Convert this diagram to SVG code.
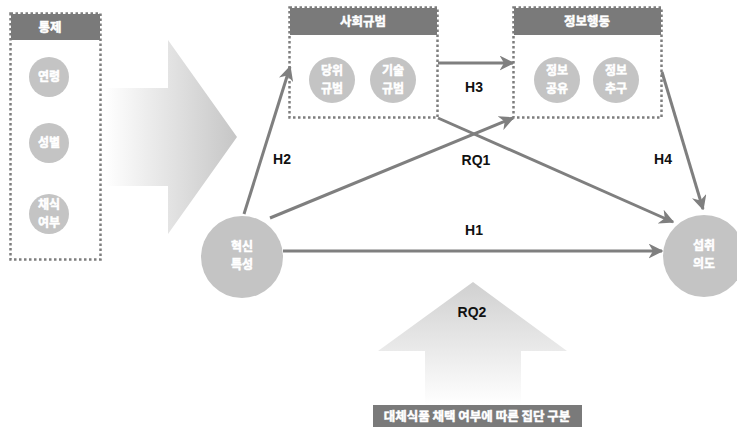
<svg xmlns="http://www.w3.org/2000/svg" width="737" height="431" viewBox="0 0 737 431">
<defs>
<style>
.box{fill:#fff;stroke:#7d7d7d;stroke-width:2.5;stroke-dasharray:2.5 2.5}
.hdr{fill:#7a7a7a}
.ht{fill:#fff;stroke:#fff;stroke-width:0.5;font-family:"Noto Sans CJK KR","Noto Sans",sans-serif;font-weight:700;font-size:12.5px;text-anchor:middle}
.c{fill:#c4c4c4}
.ct{fill:#fff;stroke:#fff;stroke-width:0.5;font-family:"Noto Sans CJK KR","Noto Sans",sans-serif;font-weight:700;font-size:12px;text-anchor:middle}
.ln{stroke:#7f7f7f;stroke-width:3;fill:none;marker-end:url(#ah)}
.lb{fill:#111;font-family:"Liberation Sans",Arial,sans-serif;font-weight:700;font-size:14px;text-anchor:middle}
</style>
<marker id="ah" viewBox="0 0 10 10" refX="9" refY="5" markerWidth="5" markerHeight="5" orient="auto" markerUnits="strokeWidth">
<path d="M0,0 L10,5 L0,10 L3,5 z" fill="#7f7f7f"/>
</marker>
<linearGradient id="gr" x1="0" y1="0" x2="1" y2="0">
<stop offset="0" stop-color="#ffffff"/>
<stop offset="1" stop-color="#c6c6c6"/>
</linearGradient>
<linearGradient id="gu" x1="0" y1="0" x2="0" y2="1">
<stop offset="0" stop-color="#d0d0d0"/>
<stop offset="1" stop-color="#ffffff"/>
</linearGradient>
</defs>
<rect width="737" height="431" fill="#fff"/>

<path id="bigArrow" d="M105,88 L168,88 L168,40 L237,137 L168,234 L168,186 L105,186 Z" fill="url(#gr)"/>
<path id="upArrow" d="M473,282 L567,351 L521,351 L521,405 L425,405 L425,351 L378,351 Z" fill="url(#gu)"/>

<g id="control">
<rect class="box" x="10.5" y="13.5" width="90" height="246"/>
<rect class="hdr" x="11" y="14" width="89" height="26"/>
<text class="ht" x="50" y="32">통제</text>
<circle class="c" cx="49" cy="77" r="20"/>
<text class="ct" x="49" y="81">연령</text>
<circle class="c" cx="49" cy="143" r="20"/>
<text class="ct" x="49" y="147">성별</text>
<circle class="c" cx="49" cy="214" r="20"/>
<text class="ct" x="49" y="209">채식</text>
<text class="ct" x="49" y="227">여부</text>
</g>

<g id="socialNorm">
<rect class="box" x="289.5" y="7.5" width="148" height="110"/>
<rect class="hdr" x="290" y="8" width="147" height="27"/>
<text class="ht" x="363" y="26">사회규범</text>
<circle class="c" cx="332" cy="80" r="23"/>
<text class="ct" x="332" y="75">당위</text>
<text class="ct" x="332" y="93">규범</text>
<circle class="c" cx="393" cy="80" r="23"/>
<text class="ct" x="393" y="75">기술</text>
<text class="ct" x="393" y="93">규범</text>
</g>

<g id="infoBehavior">
<rect class="box" x="513.5" y="7.5" width="148" height="110"/>
<rect class="hdr" x="514" y="8" width="147" height="27"/>
<text class="ht" x="587" y="26">정보행동</text>
<circle class="c" cx="557" cy="80" r="23"/>
<text class="ct" x="557" y="75">정보</text>
<text class="ct" x="557" y="93">공유</text>
<circle class="c" cx="616" cy="80" r="23"/>
<text class="ct" x="616" y="75">정보</text>
<text class="ct" x="616" y="93">추구</text>
</g>

<g id="innovation">
<circle class="c" cx="242" cy="257" r="41"/>
<text class="ct" x="242" y="251">혁신</text>
<text class="ct" x="242" y="269">특성</text>
</g>

<g id="intention">
<circle class="c" cx="704" cy="256" r="41"/>
<text class="ct" x="704" y="250">섭취</text>
<text class="ct" x="704" y="268">의도</text>
</g>

<g id="connectors">
<line class="ln" x1="283" y1="251" x2="662" y2="251"/>
<line class="ln" x1="244" y1="214" x2="290" y2="67"/>
<line class="ln" x1="438" y1="63" x2="513" y2="63"/>
<line class="ln" x1="662" y1="72" x2="703" y2="209"/>
<line class="ln" x1="270" y1="218" x2="513" y2="118"/>
<line class="ln" x1="438" y1="118" x2="673" y2="222"/>
</g>

<g id="labels">
<text class="lb" x="282" y="164">H2</text>
<text class="lb" x="474" y="92">H3</text>
<text class="lb" x="476" y="165">RQ1</text>
<text class="lb" x="663" y="164">H4</text>
<text class="lb" x="474" y="235">H1</text>
<text class="lb" x="472" y="317">RQ2</text>
</g>

<g id="groupBar">
<rect x="373" y="405" width="209" height="22" fill="#7a7a7a"/>
<text class="ht" x="477" y="421">대체식품 채택 여부에 따른 집단 구분</text>
</g>
</svg>
